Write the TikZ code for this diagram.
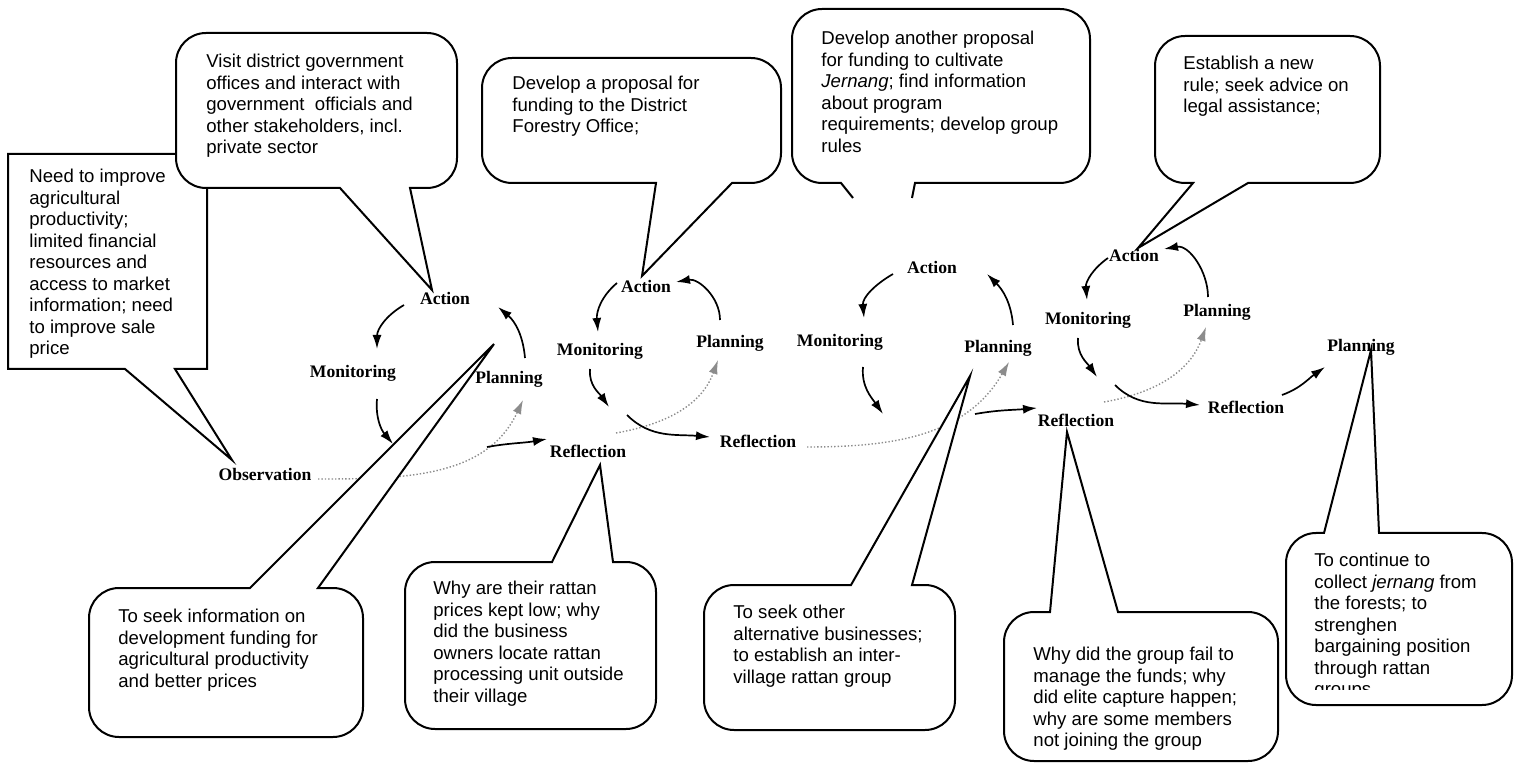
\documentclass[tikz,border=0pt]{standalone}
\usepackage{fontspec}
\setmainfont{Liberation Sans}
\newfontfamily\cyclefont{Liberation Serif}
\usepackage{tikz}
\usetikzlibrary{arrows.meta,calc}
\definecolor{dotgray}{HTML}{8C8C8C}

\begin{document}
\begin{tikzpicture}[x=0.5pt,y=0.5pt,
    lbl/.style={font=\cyclefont\bfseries\fontsize{8.8}{10}\selectfont,inner sep=0pt,text height=6.5pt,text depth=2pt},
    note/.style={font=\fontsize{9.3}{10.75}\selectfont,align=left,inner sep=0pt,anchor=north west},
    callout/.style={draw=black,line width=1pt,fill=white},
    cyc/.style={line width=0.85pt,-{Latex[length=7pt,width=4.5pt]}},
    dots/.style={dotgray,line width=0.7pt,densely dotted,-{Latex[length=7pt,width=4.5pt]}}]
  \useasboundingbox (0,0) rectangle (1518,-763);

  % cycle labels
  \node[lbl] (act1) at (445,-300) {Action};
  \node[lbl] (mon1) at (353,-373) {Monitoring};
  \node[lbl] (plan1) at (509,-379) {Planning};
  \node[lbl] (obs) at (265,-476) {Observation};
  \node[lbl] (refl1) at (588,-453) {Reflection};
  \node[lbl] (act2) at (646,-288) {Action};
  \node[lbl] (mon2) at (600,-351) {Monitoring};
  \node[lbl] (plan2) at (730,-343) {Planning};
  \node[lbl] (refl2) at (758,-443) {Reflection};
  \node[lbl] (act3) at (932,-269) {Action};
  \node[lbl] (mon3) at (840,-342) {Monitoring};
  \node[lbl] (plan3) at (998,-348) {Planning};
  \node[lbl] (refl3) at (1076,-422) {Reflection};
  \node[lbl] (act4) at (1134,-257) {Action};
  \node[lbl] (mon4) at (1088,-320) {Monitoring};
  \node[lbl] (plan4) at (1217,-312) {Planning};
  \node[lbl] (refl4) at (1246,-409) {Reflection};
  \node[lbl] (plan5) at (1361,-347) {Planning};

  % cycle arrows
  \draw[cyc] ($(act1)+(-41,-5)$) to[out=210,in=90] ($(mon1)+(24,24)$);
  \draw[cyc] ($(mon1)+(24,-26)$) to[out=-95,in=130] ($(mon1)+(40,-71)$);
  \draw[dots] ($(obs)+(53,-3)$) to[out=0,in=245] ($(plan1)+(14,-21)$);
  \draw[cyc] ($(refl1)+(-101,6)$) to[out=10,in=190] ($(refl1)+(-41,14)$);
  \draw[cyc] ($(plan1)+(16,21)$) to[out=95,in=-40] ($(act1)+(53,-7)$);

  \draw[cyc] ($(act2)+(-29,5)$) to[out=220,in=95] ($(mon2)+(-2,19)$);
  \draw[cyc] ($(plan2)+(-10,23)$) to[out=90,in=10] ($(act2)+(30,6)$);
  \draw[cyc] ($(mon2)+(-10,-18)$) to[out=-95,in=125] ($(mon2)+(9,-56)$);
  \draw[dots] ($(refl1)+(28,20)$) to[out=10,in=250] ($(plan2)+(-12,-17)$);
  \draw[cyc] ($(refl1)+(39,38)$) to[out=-45,in=175] ($(refl2)+(-48,6)$);

  \draw[cyc] ($(act3)+(-39,-5)$) to[out=210,in=95] ($(mon3)+(24,24)$);
  \draw[cyc] ($(plan3)+(15,23)$) to[out=95,in=-45] ($(act3)+(55,-5)$);
  \draw[cyc] ($(mon3)+(23,-25)$) to[out=-95,in=125] ($(mon3)+(43,-72)$);
  \draw[dots] ($(refl2)+(49,-4)$) to[out=0,in=240] ($(plan3)+(11,-14)$);
  \draw[cyc] ($(refl3)+(-101,8)$) to[out=10,in=185] ($(refl3)+(-39,14)$);

  \draw[cyc] ($(act4)+(-26,-1)$) to[out=215,in=95] ($(mon4)+(-1,20)$);
  \draw[cyc] ($(plan4)+(-9,15)$) to[out=90,in=10] ($(act4)+(30,8)$);
  \draw[cyc] ($(mon4)+(-10,-18)$) to[out=-95,in=125] ($(mon4)+(9,-57)$);
  \draw[dots] ($(refl3)+(28,20)$) to[out=10,in=250] ($(plan4)+(-11,-15)$);
  \draw[cyc] ($(refl3)+(39,37)$) to[out=-45,in=175] ($(refl4)+(-46,4)$);
  \draw[cyc] ($(refl4)+(36,14)$) to[out=20,in=215] ($(plan5)+(-36,-20)$);

  % callouts above
  \draw[callout] (8,-154) -- (207,-154) -- (207,-369) -- (175,-369) -- ($(obs)+(-33,16)$) -- (125,-369) -- (8,-369) -- cycle;
  \node[note] (tneed) at (29,-169) {Need to improve\\agricultural\\productivity;\\limited financial\\resources and\\access to market\\information; need\\to improve sale\\price};

  \draw[callout] (300,-33) [rounded corners=15pt] -- (176,-33) -- (176,-188) [sharp corners] -- (340,-188) -- ($(act1)+(-13,10)$) -- (410,-188) [rounded corners=15pt] -- (457,-188) -- (457,-33) -- cycle;
  \node[note] (tvisit) at (206,-54) {Visit district government\\offices and interact with\\government\ \ officials and\\other stakeholders, incl.\\private sector};

  \draw[callout] (630,-58) [rounded corners=15pt] -- (482,-58) -- (482,-183) [sharp corners] -- (656,-183) -- ($(act2)+(-4,12)$) -- (732,-183) [rounded corners=15pt] -- (781,-183) -- (781,-58) -- cycle;
  \node[note] (tprop1) at (512,-76) {Develop a proposal for\\funding to the District\\Forestry Office;};

  \draw[callout] (853,-198) -- (841,-183) [rounded corners=15pt] -- (792,-183) -- (792,-9) -- (1090,-9) -- (1090,-183) [sharp corners] -- (915,-183) -- (912,-198);
  \node[note] (tprop2) at (821,-31) {Develop another proposal\\for funding to cultivate\\\textit{Jernang}; find information\\about program\\requirements; develop group\\rules};

  \draw[callout] (1270,-36) [rounded corners=15pt] -- (1155,-36) -- (1155,-183) [sharp corners] -- (1193,-183) -- ($(act4)+(4,9)$) -- (1248,-183) [rounded corners=15pt] -- (1380,-183) -- (1380,-36) -- cycle;
  \node[note] (trule) at (1183,-56) {Establish a new\\rule; seek advice on\\legal assistance;};

  % callouts below
  \draw[callout] (200,-737) [rounded corners=15pt] -- (89,-737) -- (89,-588) [sharp corners] -- (250,-588) -- ($(plan1)+(-15,35)$) -- (318,-588) [rounded corners=15pt] -- (363,-588) -- (363,-737) -- cycle;
  \node[note] (tseek) at (118,-609) {To seek information on\\development funding for\\agricultural productivity\\and better prices};

  \draw[callout] (500,-729) [rounded corners=15pt] -- (405,-729) -- (405,-562) [sharp corners] -- (552,-562) -- ($(refl1)+(12,-12)$) -- (613,-562) [rounded corners=15pt] -- (656,-562) -- (656,-729) -- cycle;
  \node[note] (twhy1) at (433,-581) {Why are their rattan\\prices kept low; why\\did the business\\owners locate rattan\\processing unit outside\\their village};

  \draw[callout] (800,-730) [rounded corners=15pt] -- (704,-730) -- (704,-585) [sharp corners] -- (851,-585) -- ($(plan3)+(-28,-28)$) -- (912,-585) [rounded corners=15pt] -- (955,-585) -- (955,-730) -- cycle;
  \node[note] (tother) at (733,-605) {To seek other\\alternative businesses;\\to establish an inter-\\village rattan group};

  \draw[callout] (1140,-761) [rounded corners=15pt] -- (1004,-761) -- (1004,-612) [sharp corners] -- (1050,-612) -- ($(refl3)+(-9,-10)$) -- (1118,-612) [rounded corners=15pt] -- (1278,-612) -- (1278,-761) -- cycle;
  \node[note] (twhy2) at (1033,-647) {Why did the group fail to\\manage the funds; why\\did elite capture happen;\\why are some members\\not joining the group};

  \draw[callout] (1400,-705) [rounded corners=15pt] -- (1286,-705) -- (1286,-533) [sharp corners] -- (1324,-533) -- ($(plan5)+(10,-3)$) -- (1379,-533) [rounded corners=15pt] -- (1512,-533) -- (1512,-705) -- cycle;
  \begin{scope}
    \clip (1290,-533) rectangle (1508,-689);
    \node[note] (tcont) at (1314,-553) {To continue to\\collect \textit{jernang} from\\the forests; to\\strenghen\\bargaining position\\through rattan\\groups};
  \end{scope}
\end{tikzpicture}
\end{document}
